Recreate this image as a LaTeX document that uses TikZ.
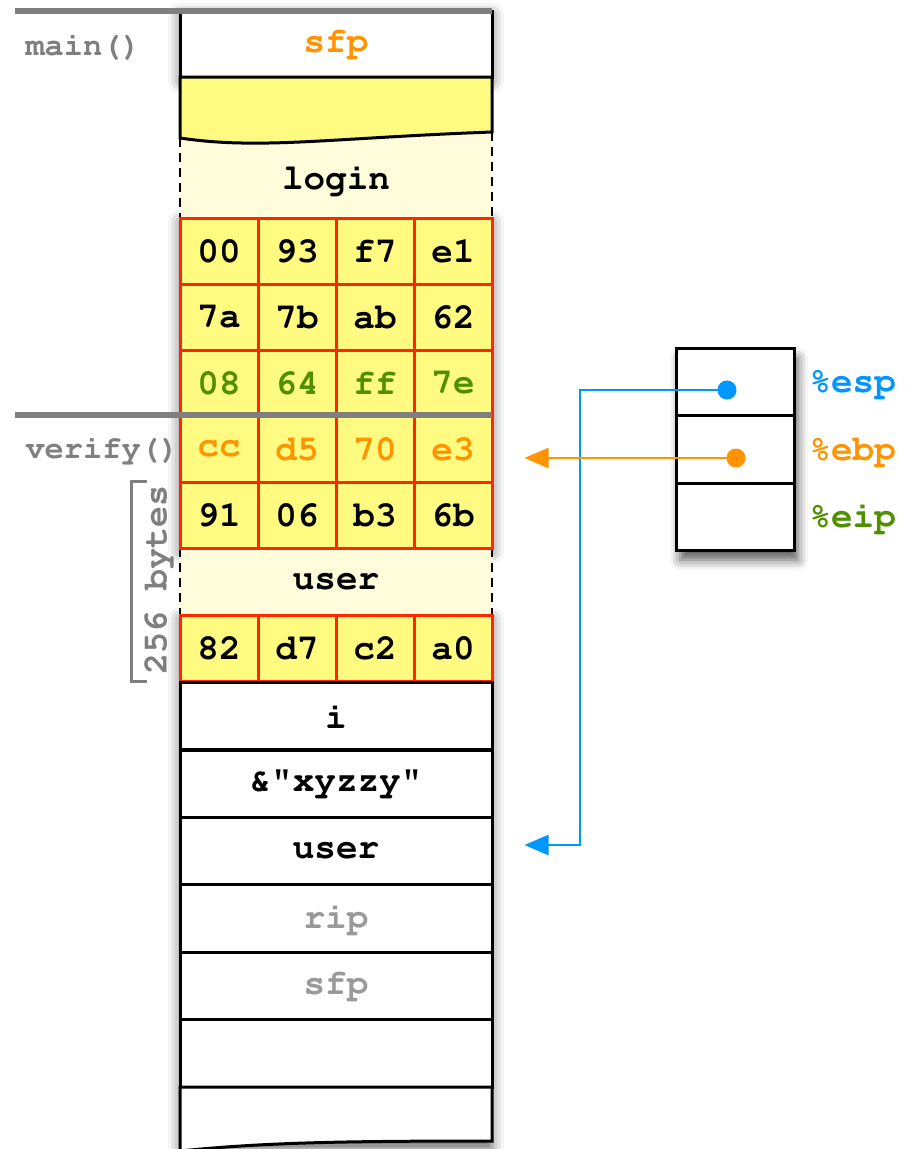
\documentclass[tikz,border=0pt]{standalone}
\usepackage{fontspec}
\setmonofont{Liberation Mono}
\usetikzlibrary{shadows.blur,arrows.meta,calc}
\definecolor{cyel}{HTML}{FFFB80}
\definecolor{clight}{HTML}{FFFCDC}
\definecolor{cred}{HTML}{FF2600}
\definecolor{cblue}{HTML}{0096FF}
\definecolor{corange}{HTML}{FF9300}
\definecolor{cgreen}{HTML}{4F8F00}
\definecolor{cgray}{HTML}{7F7F7F}
\definecolor{clgray}{HTML}{999999}
\newcommand\courb{\fontencoding{T1}\fontfamily{pcr}\fontseries{b}\fontshape{n}}
\tikzset{
  txt/.style={font=\courb\fontsize{36}{40}\selectfont},
  lbl/.style={font=\courb\fontsize{32}{36}\selectfont, text=cgray},
  hexc/.style={draw=cred, line width=3pt, fill=cyel, minimum width=78pt, inner sep=0pt, txt},
  wcell/.style={draw=black, line width=3pt, fill=white, minimum width=312pt, inner sep=0pt, txt},
  rcell/.style={draw=black, line width=3pt, fill=white, minimum width=118pt, inner sep=0pt},
  regl/.style={txt, anchor=west},
  shd/.style={blur shadow={shadow xshift=0pt, shadow yshift=-4pt, shadow blur radius=12pt, shadow opacity=60}},
  ptr/.style={line width=2.5pt, -{Triangle[length=24pt,width=20pt]}},
  dsh/.style={line width=2.5pt, dash pattern=on 9pt off 6pt},
}
\begin{document}
\begin{tikzpicture}[x=1pt,y=-1pt]
\useasboundingbox (0,0) rectangle (911,1149);
% shadows
\path[shd] (180,11) rectangle (492,77);
\path[shd] (180,218) rectangle (492,548);
\path[shd] (180,615) rectangle (492,1145);
\path[blur shadow={shadow xshift=4pt, shadow yshift=-10pt, shadow blur radius=10pt, shadow opacity=65}] (676,348) rectangle (794,550);
% light regions
\fill[clight] (180,120) rectangle (492,218);
\fill[clight] (180,548) rectangle (492,615);
\draw[dsh] (180,138) -- (180,218);
\draw[dsh] (492,132) -- (492,218);
\draw[dsh] (180,548) -- (180,615);
\draw[dsh] (492,548) -- (492,615);
\node[txt] (login) at (336,180) {login};
\node[txt] (userb) at (336,582) {user};
% top sfp
\node[wcell, minimum height=66pt] (sfpm) at (336,44) {\textcolor{corange}{sfp}};
% yellow wavy
\draw[line width=3pt, fill=cyel] (180,77) -- (492,77) -- (492,132) .. controls (330,138) and (260,150) .. (180,138) -- cycle;
% hex grid
\foreach \r/\y/\col/\a/\b/\c/\d in {1/251/black/00/93/f7/e1, 2/317/black/7a/7b/ab/62, 3/383/cgreen/08/64/ff/7e, 4/449/corange/cc/d5/70/e3, 5/515/black/91/06/b3/6b, 6/648.5/black/82/d7/c2/a0}{
  \node[hexc, minimum height=66pt, text=\col] (h\r a) at (219,\y) {\a};
  \node[hexc, minimum height=66pt, text=\col] (h\r b) at (297,\y) {\b};
  \node[hexc, minimum height=66pt, text=\col] (h\r c) at (375,\y) {\c};
  \node[hexc, minimum height=66pt, text=\col] (h\r d) at (453,\y) {\d};
}
% lower cells
\node[wcell, minimum height=67.5pt] (ci) at (336,716) {i};
\node[wcell, minimum height=67.5pt] (cx) at (336,784) {\&"xyzzy"};
\node[wcell, minimum height=67.5pt] (cu) at (336,851) {user};
\node[wcell, minimum height=67.5pt, text=clgray] (cr) at (336,918.5) {rip};
\node[wcell, minimum height=67.5pt, text=clgray] (cs) at (336,986) {sfp};
\node[wcell, minimum height=67.5pt] (ce) at (336,1053.5) {};
\draw[line width=3pt, fill=white] (180,1087) -- (492,1087) -- (492,1141) .. controls (330,1141) and (260,1143) .. (180,1151) -- cycle;
% separators
\draw[cgray, line width=6pt] (15,11) -- (492,11);
\draw[cgray, line width=6pt] (15,415) -- (492,415);
\node[lbl, anchor=west] (lmain) at (22,47) {main()};
\node[lbl, anchor=west] (lver) at (22,450) {verify()};
% 256 bytes bracket
\draw[cgray, line width=3pt] (147,481) -- (131,481) -- (131,681) -- (147,681);
\node[txt, text=cgray, rotate=90, font=\courb\fontsize{35}{40}\selectfont] (bytes) at (158,580) {256 bytes};
% registers
\node[rcell, minimum height=67pt] (resp) at (735,381.5) {};
\node[rcell, minimum height=68pt] (rebp) at (735,449) {};
\node[rcell, minimum height=67pt] (reip) at (735,516.5) {};
\node[regl, text=cblue] (lesp) at (806,384) {\%esp};
\node[regl, text=corange] (lebp) at (806,452) {\%ebp};
\node[regl, text=cgreen] (leip) at (806,518) {\%eip};
% pointers
\coordinate (desp) at (727,390);
\coordinate (debp) at (736,458);
\coordinate (tesp) at ($(cu.east)+(31,-6)$);
\coordinate (tebp) at ($(h4d.east)+(31,9)$);
\fill[cblue] (desp) circle (9.5pt);
\fill[corange] (debp) circle (9.5pt);
\draw[ptr, cblue] (desp) -| (580,845) -- (tesp);
\draw[ptr, corange] (debp) -- (tebp);
\end{tikzpicture}
\end{document}
